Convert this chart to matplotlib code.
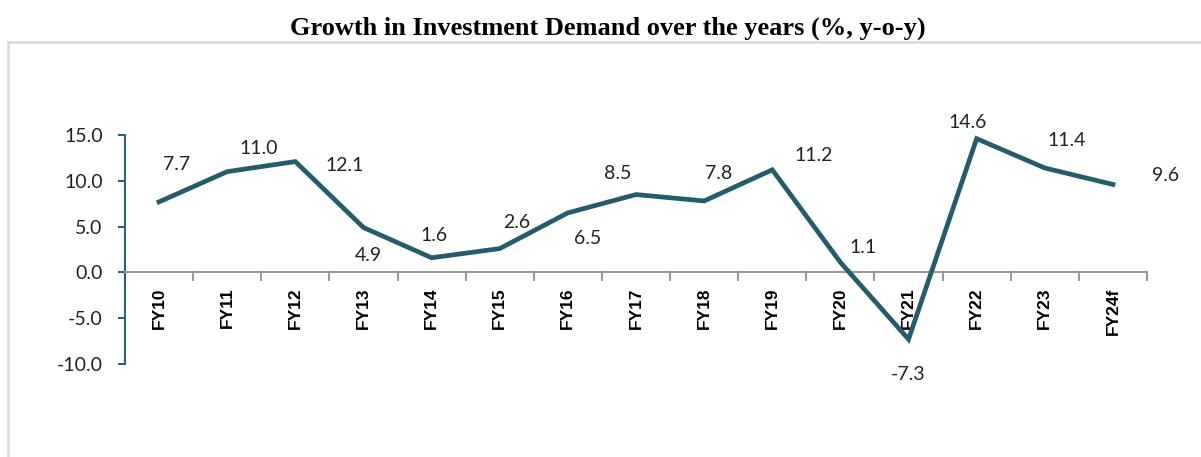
import matplotlib
matplotlib.use("Agg")
import matplotlib.pyplot as plt
from matplotlib.patches import Rectangle

categories = ["FY10", "FY11", "FY12", "FY13", "FY14", "FY15", "FY16", "FY17",
              "FY18", "FY19", "FY20", "FY21", "FY22", "FY23", "FY24f"]
growth = [7.7, 11.0, 12.1, 4.9, 1.6, 2.6, 6.5, 8.5, 7.8, 11.2, 1.1, -7.3, 14.6, 11.4, 9.6]
y_ticks = [-10.0, -5.0, 0.0, 5.0, 10.0, 15.0]

# label offsets in pixels (dx, dy) relative to each point
label_offsets = [(17, 37), (32, 23), (49, -4), (5, -28), (2, 22), (17, 26), (20, -26),
                 (-18, 21), (14, 27), (41, 14), (23, 15), (0, -35), (-9, 16), (22, 27), (53, 9)]

W, H = 1201, 457
fig = plt.figure(figsize=(W / 100, H / 100), dpi=100)

# outer light-gray frame
fig.patches.append(Rectangle((8 / W, -0.1), 1.2, (H - 42) / H + 0.1, transform=fig.transFigure,
                             fill=False, edgecolor="#d9d9d9", linewidth=1.8))

fig.text(608 / W, 1 - 28 / H, "Growth in Investment Demand over the years (%, y-o-y)",
         ha="center", va="center", fontsize=19, fontweight="bold",
         family=["Liberation Serif", "DejaVu Serif"])

left, right = 125 / W, 1147 / W
top_y, bot_y = 135, 364
ax = fig.add_axes([left, 1 - bot_y / H, right - left, (bot_y - top_y) / H])
x = list(range(len(categories)))
ax.plot(x, growth, color="#245c6b", linewidth=3.4, solid_joinstyle="miter", zorder=3)
ax.set_xlim(-0.5, len(categories) - 0.5)
ax.set_ylim(-10, 15)
ax.set_yticks(y_ticks)
ax.set_yticklabels([f"{v:.1f}" for v in y_ticks], family=["Lato", "DejaVu Sans"], fontsize=14,
                   color="#222222")

ax.spines["top"].set_visible(False)
ax.spines["right"].set_visible(False)
ax.spines["left"].set_color("#2b6270")
ax.spines["left"].set_linewidth(1.5)
ax.spines["bottom"].set_position(("data", 0))
ax.spines["bottom"].set_color("#999999")
ax.spines["bottom"].set_linewidth(1.5)
ax.tick_params(axis="y", direction="out", length=5, width=1.5, color="#2b6270", pad=11)

ax.set_xticks([i + 0.5 for i in range(-1, len(categories))], minor=False)
ax.set_xticklabels([])
ax.tick_params(axis="x", which="major", direction="in", length=0)
ax.set_xticks(x, minor=True)
ax.set_xticklabels(categories, minor=True, rotation=90, fontweight="bold",
                   family=["Liberation Sans", "DejaVu Sans"], fontsize=12.5)
ax.tick_params(axis="x", which="minor", length=0, pad=11)

# gray tick marks below x axis at category boundaries
for b in [i + 0.5 for i in range(-1, len(categories))]:
    ax.plot([b, b], [0, -0.85], color="#999999", linewidth=1.5, zorder=2, clip_on=False)

for xi, (v, (dx, dy)) in enumerate(zip(growth, label_offsets)):
    ax.annotate(f"{v:.1f}", (xi, v), xytext=(dx * 0.72, dy * 0.72), textcoords="offset points",
                ha="center", va="center", fontsize=14, family=["Lato", "DejaVu Sans"],
                color="#222222")

fig.savefig("out.png", dpi=100)
